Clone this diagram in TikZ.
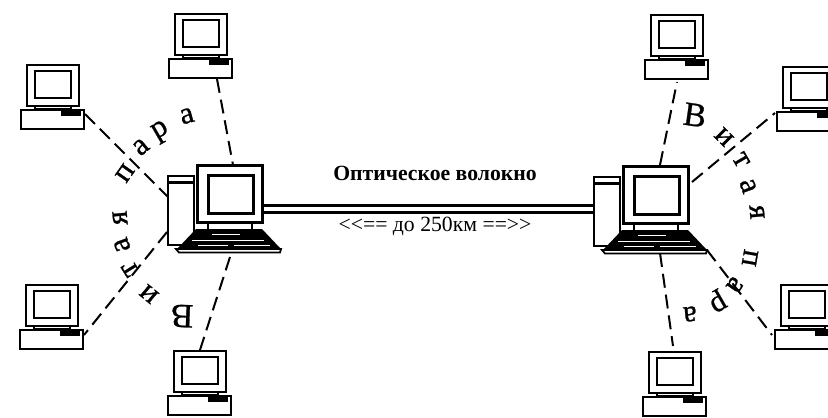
\documentclass[tikz,border=0pt]{standalone}
\usepackage{fontspec}
\setmainfont{Liberation Serif}
\newfontfamily\heavyserif[FakeBold=0.8]{Liberation Serif}
\tikzset{
  x=1pt,y=-1pt,
  pcline/.style={draw=black,line width=2.5pt,fill=white,rectangle,inner sep=0pt,outer sep=0pt},
  cable/.style={black,line width=2pt,dash pattern=on 14pt off 7pt},
  fibre/.style={black,line width=3pt},
  curved/.style={font=\heavyserif\fontsize{31}{31}\selectfont,inner sep=0pt},
  bigletter/.style={font=\heavyserif\fontsize{34}{34}\selectfont,inner sep=0pt},
  boldlabel/.style={font=\fontsize{21.7}{24}\selectfont\bfseries,inner sep=0pt},
  plainlabel/.style={font=\fontsize{21.7}{24}\selectfont,inner sep=0pt},
}
% #1 name, #2,#3 top-left corner of the monitor
\newcommand{\smallpc}[3]{%
  \begin{scope}[shift={(#2,#3)}]
    \draw[black,line width=2pt] (8,39) -- (8,46) (44,39) -- (44,46);
    \draw[black,line width=1pt] (8,43) -- (44,43);
    \node[pcline,minimum width=52pt,minimum height=41pt] (#1m) at (26,20.5) {};
    \draw[black,line width=2.5pt] (8,6) rectangle (44,33);
    \node[pcline,minimum width=63pt,minimum height=19pt] (#1b) at (25.5,54.5) {};
    \fill[black] (34,45.5) rectangle (54,51);
  \end{scope}}
% #1 name, #2,#3 top-left corner of the tower
\newcommand{\bigpc}[3]{%
  \begin{scope}[shift={(#2,#3)}]
    \node[pcline,minimum width=26pt,minimum height=69pt] (#1t) at (13,34.5) {};
    \draw[black,line width=3pt] (0,6) -- (26,6);
    \draw[black,line width=2.5pt] (40,44) -- (40,54) (84,44) -- (84,54);
    \node[pcline,line width=2.8pt,minimum width=65pt,minimum height=57pt] (#1m) at (62,18) {};
    \draw[black,line width=3pt] (40,-1) rectangle (85,37);
    \fill[black] (28,53) -- (94,53) -- (112,72) -- (10,72) -- cycle;
    \draw[white,line width=1pt] (44,58) -- (72,58) (24,64) -- (96,64) (30,69) -- (60,69) (66,69) -- (102,69);
    \draw[black,fill=white,line width=1.8pt] (8,73) -- (113,73) -- (112,76.5) -- (11,76.5) -- cycle;
  \end{scope}}
\begin{document}
\begin{tikzpicture}
\useasboundingbox (0,0) rectangle (828,418);
\clip (0,0) rectangle (828,418);
\fill[white] (0,0) rectangle (828,418);

% ports of the connectors
\coordinate (p1) at (85,114);   \coordinate (c1) at (168,197);
\coordinate (p2) at (217,79);   \coordinate (c2) at (233,165);
\coordinate (p3) at (84,335);   \coordinate (c3) at (167,232);
\coordinate (p4) at (200,350);  \coordinate (c4) at (230,257);
\coordinate (q1) at (677,82);   \coordinate (d1) at (660,165);
\coordinate (q2) at (775,113);  \coordinate (d2) at (692,182);
\coordinate (q3) at (772,335);  \coordinate (d3) at (707,250);
\coordinate (q4) at (673,346);  \coordinate (d4) at (660,253);

\draw[cable] (p1) -- (c1);
\draw[cable] (p2) -- (c2);
\draw[cable] (c3) -- (p3);
\draw[cable] (c4) -- (p4);
\draw[cable] (d1) -- (q1);
\draw[cable] (d2) -- (q2);
\draw[cable] (d3) -- (q3);
\draw[cable] (d4) -- (q4);

\smallpc{a}{27}{65}
\smallpc{b}{175}{14}
\smallpc{c}{26}{285}
\smallpc{d}{174}{351}
\smallpc{e}{651}{15}
\smallpc{f}{783}{67}
\smallpc{g}{781}{285}
\smallpc{h}{649}{352}

\bigpc{L}{168}{176}
\bigpc{R}{594}{177}

\coordinate (fa1) at (264,205.5); \coordinate (fb1) at (594,205.5);
\coordinate (fa2) at (264,212.5); \coordinate (fb2) at (594,212.5);
\draw[fibre] (fa1) -- (fb1);
\draw[fibre] (fa2) -- (fb2);

\node[boldlabel] (t1) at (435,173) {Оптическое волокно};
\node[plainlabel] (t2) at (435,226) {<{}<== до 250км ==>{}>};

% left arc
\node[bigletter,rotate=178] (l1) at (182,316) {В};
\node[curved,rotate=140] (l2) at (149,294) {и};
\node[curved,rotate=122] (l3) at (130,269) {т};
\node[curved,rotate=110] (l4) at (122,245) {а};
\node[curved,rotate=95]  (l5) at (120,218) {я};
\node[curved,rotate=55]  (l6) at (125,173) {п};
\node[curved,rotate=40]  (l7) at (141,147) {а};
\node[curved,rotate=30]  (l8) at (161,132) {р};
\node[curved,rotate=15]  (l9) at (187,116) {а};
% right arc
\node[bigletter,rotate=-8]   (r1) at (695,115) {В};
\node[curved,rotate=-45]  (r2) at (724,137) {и};
\node[curved,rotate=-60]  (r3) at (741,160) {т};
\node[curved,rotate=-70]  (r4) at (748,186) {а};
\node[curved,rotate=-85]  (r5) at (757,212) {я};
\node[curved,rotate=-100] (r6) at (750,258) {п};
\node[curved,rotate=-125] (r7) at (735,285) {а};
\node[curved,rotate=-150] (r8) at (717,301) {р};
\node[curved,rotate=-175] (r9) at (690,314) {а};
\end{tikzpicture}
\end{document}
